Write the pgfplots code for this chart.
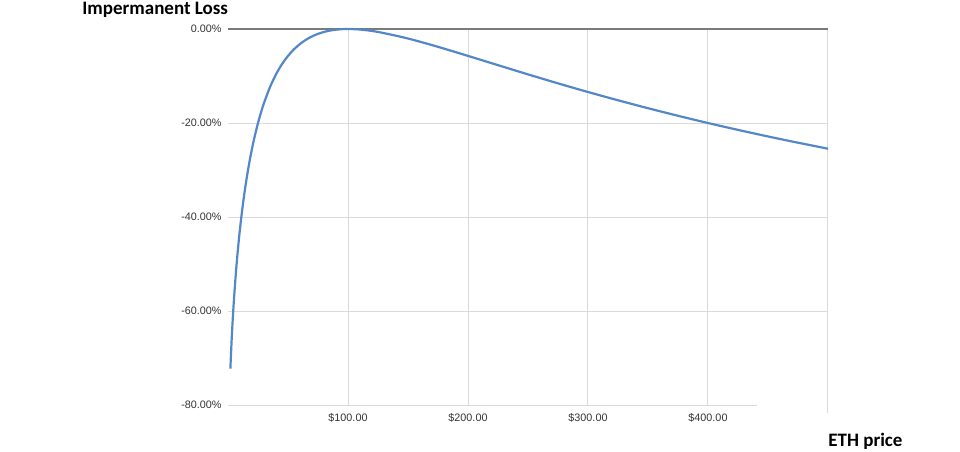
\documentclass[border=0pt]{standalone}
\usepackage{fontspec}
\setmainfont{Liberation Sans}
\newfontfamily\titlefont{Carlito}
\usepackage{pgfplots}
\pgfplotsset{compat=1.18}
\definecolor{gridc}{HTML}{DADADA}
\definecolor{zeroc}{HTML}{7A7A7A}
\definecolor{curvec}{HTML}{5287CA}
\begin{document}
\begin{tikzpicture}
\begin{axis}[
  at={(114pt,23pt)}, anchor=south west,
  scale only axis, width=300pt, height=188pt,
  xmin=0, xmax=500, ymin=-80, ymax=0,
  axis line style={draw=none},
  major tick length=0pt,
  clip=false,
  /pgf/number format/assume math mode=true,
  xtick={100,200,300,400},
  xticklabels={\$100.00,\$200.00,\$300.00,\$400.00},
  ytick={-80,-60,-40,-20,0},
  yticklabels={-80.00\%,-60.00\%,-40.00\%,-20.00\%,0.00\%},
  tick label style={font=\fontsize{5.4}{6}\selectfont, text=black!80},
  xticklabel style={anchor=base, inner sep=0pt, yshift=-8.5pt},
  yticklabel style={anchor=east, inner sep=0pt, xshift=-3pt},
]
% grid lines
\draw[gridc, line width=0.5pt] (axis cs:0,-20) -- (axis cs:500,-20);
\draw[gridc, line width=0.5pt] (axis cs:0,-40) -- (axis cs:500,-40);
\draw[gridc, line width=0.5pt] (axis cs:0,-60) -- (axis cs:500,-60);
\draw[gridc, line width=0.5pt] (axis cs:0,-80) -- (axis cs:441,-80);
\draw[gridc, line width=0.5pt] (axis cs:100,0) -- (axis cs:100,-80);
\draw[gridc, line width=0.5pt] (axis cs:200,0) -- (axis cs:200,-80);
\draw[gridc, line width=0.5pt] (axis cs:300,0) -- (axis cs:300,-80);
\draw[gridc, line width=0.5pt] (axis cs:400,0) -- (axis cs:400,-80);
\draw[gridc, line width=0.5pt] (axis cs:500,0) -- (axis cs:500,-81.7);
\draw[zeroc, line width=0.75pt] (axis cs:0,0) -- (axis cs:500,0);
\addplot[curvec, line width=1.1pt, smooth, no markers] coordinates {
(2,-72.27) (2.25,-70.66) (2.5,-69.15) (3,-66.37) (3.5,-63.85) (4,-61.54)
(4.5,-59.40) (5,-57.41) (6,-53.78) (7,-50.55) (8,-47.62) (9,-44.95)
(10,-42.50) (12,-38.14) (14,-34.36) (16,-31.03) (18,-28.09) (20,-25.46)
(22,-23.11) (25,-20.00) (27.5,-17.74) (30,-15.73) (35,-12.35) (40,-9.65)
(45,-7.47) (50,-5.72) (55,-4.31) (60,-3.18) (65,-2.28) (70,-1.57)
(75,-1.03) (80,-0.62) (85,-0.33) (90,-0.14) (95,-0.03) (100,0)
(110,-0.11) (125,-0.62) (150,-2.02) (175,-3.79) (200,-5.72) (225,-7.69)
(250,-9.65) (275,-11.56) (300,-13.40) (325,-15.16) (350,-16.85)
(375,-18.46) (400,-20.00) (425,-21.46) (450,-22.86) (475,-24.19) (500,-25.46)
};
\end{axis}
\node[anchor=base west, inner sep=0pt] at (41pt,218.5pt) {\titlefont\bfseries\fontsize{9.5}{11}\selectfont Impermanent Loss};
\node[anchor=base west, inner sep=0pt] at (414pt,2.3pt) {\titlefont\bfseries\fontsize{9.5}{11}\selectfont ETH price};
\pgfresetboundingbox
\path[use as bounding box] (0,0) rectangle (480pt,225.5pt);
\end{tikzpicture}
\end{document}
